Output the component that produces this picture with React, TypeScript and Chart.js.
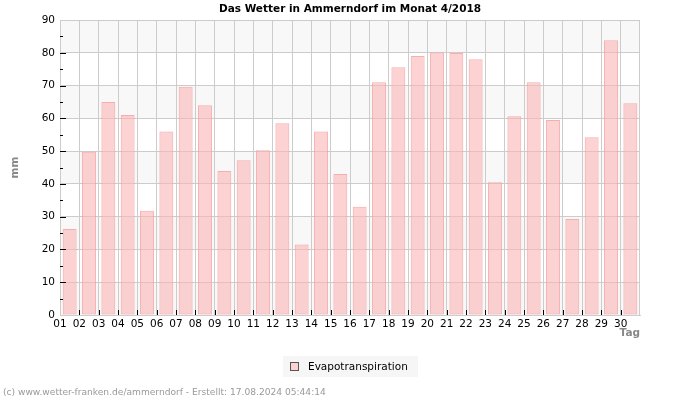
import { useEffect, useRef } from "react";
import { Chart, registerables } from "chart.js";

Chart.register(...registerables);

const title = "Das Wetter in Ammerndorf im Monat 4/2018";
const yAxisTitle = "mm";
const xAxisTitle = "Tag";
const seriesName = "Evapotranspiration";
const footer = "(c) www.wetter-franken.de/ammerndorf - Erstellt: 17.08.2024 05:44:14";

const days = [
  "01", "02", "03", "04", "05", "06", "07", "08", "09", "10",
  "11", "12", "13", "14", "15", "16", "17", "18", "19", "20",
  "21", "22", "23", "24", "25", "26", "27", "28", "29", "30",
];

const evapotranspiration = [
  26.2, 49.8, 65.0, 61.0, 31.8, 56.0, 69.6, 64.0, 43.9, 47.2,
  50.3, 58.5, 21.5, 56.0, 43.0, 33.0, 71.0, 75.6, 79.0, 80.1,
  79.9, 78.0, 40.5, 60.6, 71.0, 59.5, 29.3, 54.2, 83.8, 64.6,
];

const yMin = 0;
const yMax = 90;
const yStep = 10;
const yMinorStep = 5;

const FONT = "'DejaVu Sans', sans-serif";
const barFill = "rgba(250,180,180,0.6)";
const barBorder = "rgba(245,160,160,0.85)";
const gridColor = "#cccccc";
const bandColor = "#f8f8f8";

const decorPlugin = {
  id: "decor",
  beforeDraw(chart: any) {
    const { ctx, chartArea } = chart;
    const y = chart.scales.y;
    ctx.save();
    ctx.fillStyle = bandColor;
    for (let v = yMin; v < yMax; v += 2 * yStep) {
      const top = y.getPixelForValue(v + yStep);
      const bottom = y.getPixelForValue(v);
      ctx.fillRect(chartArea.left, top, chartArea.right - chartArea.left, bottom - top);
    }
    ctx.restore();
  },
  afterDraw(chart: any) {
    const { ctx, chartArea } = chart;
    const x = chart.scales.x;
    const y = chart.scales.y;
    ctx.save();
    // inward tick marks
    ctx.strokeStyle = "#000";
    ctx.lineWidth = 1;
    ctx.beginPath();
    for (let v = yMin + yMinorStep; v < yMax; v += yMinorStep) {
      const py = Math.round(y.getPixelForValue(v)) + 0.5;
      const len = v % yStep === 0 ? 6 : 3;
      ctx.moveTo(chartArea.left, py);
      ctx.lineTo(chartArea.left + len, py);
    }
    const n = days.length;
    for (let i = 1; i < n; i++) {
      const px = Math.round((x.getPixelForValue(i - 1) + x.getPixelForValue(i)) / 2) + 0.5;
      ctx.moveTo(px, chartArea.bottom);
      ctx.lineTo(px, chartArea.bottom - 5);
    }
    ctx.stroke();

    // title
    ctx.fillStyle = "#000";
    ctx.font = `bold 10.5px ${FONT}`;
    ctx.textAlign = "center";
    ctx.textBaseline = "middle";
    ctx.fillText(title, (chartArea.left + chartArea.right) / 2, 9);

    // axis titles
    ctx.fillStyle = "#888";
    ctx.font = `bold 10.5px ${FONT}`;
    ctx.save();
    ctx.translate(15, (chartArea.top + chartArea.bottom) / 2);
    ctx.rotate(-Math.PI / 2);
    ctx.textAlign = "center";
    ctx.fillText(yAxisTitle, 0, 0);
    ctx.restore();
    ctx.textAlign = "right";
    ctx.fillText(xAxisTitle, chartArea.right, 333);

    // legend
    ctx.fillStyle = "#f6f6f6";
    ctx.fillRect(283, 356, 135, 21);
    ctx.fillStyle = "#fff";
    ctx.fillRect(290.5, 362.5, 8, 8);
    ctx.fillStyle = barFill;
    ctx.fillRect(290.5, 362.5, 8, 8);
    ctx.strokeStyle = "#555";
    ctx.strokeRect(290.5, 362.5, 8, 8);
    ctx.fillStyle = "#000";
    ctx.font = `10.5px ${FONT}`;
    ctx.textAlign = "left";
    ctx.fillText(seriesName, 308, 367);

    // footer
    ctx.fillStyle = "#999";
    ctx.font = `9.1px ${FONT}`;
    ctx.fillText(footer, 3, 393);
    ctx.restore();
  },
};

export default function App() {
  const ref = useRef<HTMLCanvasElement>(null);
  useEffect(() => {
    if (!ref.current) return;
    const chart = new Chart(ref.current, {
      type: "bar",
      data: {
        labels: days,
        datasets: [
          {
            label: seriesName,
            data: evapotranspiration,
            backgroundColor: barFill,
            borderColor: barBorder,
            borderWidth: 1,
            borderSkipped: false,
            barPercentage: 0.72,
            categoryPercentage: 1,
          },
        ],
      },
      options: {
        animation: false,
        responsive: false,
        maintainAspectRatio: false,
        layout: { padding: { top: 20, right: 60, left: 0, bottom: 0 } },
        plugins: {
          legend: { display: false },
          title: { display: false },
          tooltip: { enabled: false },
        },
        scales: {
          x: {
            type: "category",
            offset: true,
            grid: { offset: true, color: gridColor, drawTicks: false, lineWidth: 1 },
            border: { color: gridColor },
            ticks: {
              color: "#000",
              font: { family: FONT, size: 10.5 },
              padding: 3,
              labelOffset: -580 / 30 / 2,
              autoSkip: false,
              maxRotation: 0,
              minRotation: 0,
            },
            afterFit: (s: any) => {
              s.height = 85;
            },
          },
          y: {
            min: yMin,
            max: yMax,
            grid: { color: gridColor, drawTicks: false, lineWidth: 1 },
            border: { color: gridColor },
            ticks: {
              stepSize: yStep,
              color: "#000",
              font: { family: FONT, size: 10.5 },
              padding: 5,
            },
            afterFit: (s: any) => {
              s.width = 60;
            },
          },
        },
      },
      plugins: [decorPlugin],
    });
    return () => chart.destroy();
  }, []);
  return (
    <div style={{ position: "fixed", left: 0, top: 0, width: 700, height: 400, background: "#fff" }}>
      <canvas ref={ref} width={700} height={400} style={{ width: 700, height: 400 }} />
    </div>
  );
}
